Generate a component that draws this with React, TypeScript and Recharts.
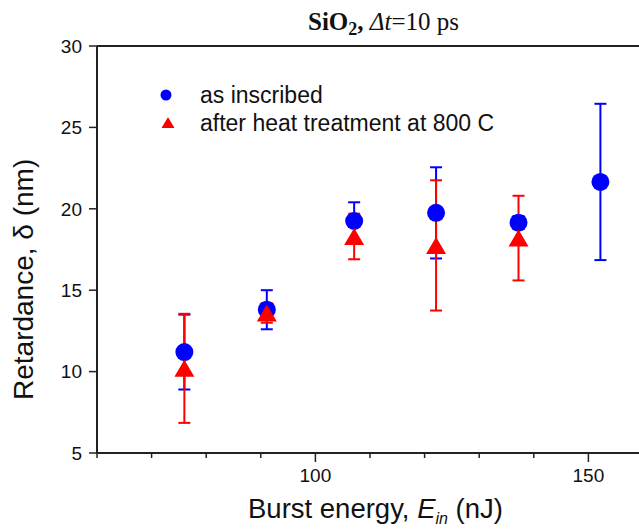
import { ScatterChart, Scatter, XAxis, YAxis, ErrorBar, ReferenceLine, Legend, Customized } from "recharts";

const energy = [76, 91.1, 107.1, 122.1, 137.2, 152.2];
const inscribed = [11.2, 13.8, 19.25, 19.75, 19.15, 21.65];
const inscribedErr = [2.3, 1.2, 1.15, 2.8, 0.4, 4.8];
const heatedEnergy = [76, 91.1, 107.1, 122.1, 137.2];
const heated = [10.2, 13.6, 18.3, 17.75, 18.2];
const heatedErr = [3.35, 0.6, 1.4, 4.0, 2.6];
const xTicks = [60, 70, 80, 90, 100, 110, 120, 130, 140, 150, 160];
const yTicks = [5, 10, 15, 20, 25, 30];

const seriesNames = ["as inscribed", "after heat treatment at 800 C"];

const blueData = energy.map((e, i) => ({ x: e, y: inscribed[i], err: inscribedErr[i] }));
const redData = heatedEnergy.map((e, i) => ({ x: e, y: heated[i], err: heatedErr[i] }));

const SANS = "'Liberation Sans', Arial, sans-serif";
const SERIF = "'Liberation Serif', 'Times New Roman', serif";

const Dot = (p: any) => <circle cx={p.cx} cy={p.cy} r={9} fill="#0000ff" />;
const Tri = (p: any) => (
  <polygon
    points={`${p.cx - 10},${p.cy + 8.5} ${p.cx + 10},${p.cy + 8.5} ${p.cx},${p.cy - 8.5}`}
    fill="#ff0000"
  />
);

const XTick = ({ x, y, payload }: any) => {
  const major = payload.value % 50 === 0;
  return (
    <g>
      <line x1={x} x2={x} y1={y} y2={y + (major ? 9 : 5)} stroke="#222" strokeWidth={1.5} />
      {major && (
        <text x={x} y={y + 29} textAnchor="middle" fontSize={19} fontFamily={SANS} fill="#111">
          {payload.value}
        </text>
      )}
    </g>
  );
};

const Titles = () => (
  <g>
    <text x={308} y={30} fontFamily={SERIF} fontSize={25} fill="#111">
      <tspan fontWeight="bold">SiO</tspan>
      <tspan fontWeight="bold" fontSize={18} dy={5}>2</tspan>
      <tspan fontWeight="bold" dy={-5}>, </tspan>
      <tspan fontStyle="italic">Δt</tspan>
      <tspan>=10 ps</tspan>
    </text>
    <text x={248} y={518} fontFamily={SANS} fontSize={27.5} fill="#111">
      <tspan>Burst energy, </tspan>
      <tspan fontStyle="italic">E</tspan>
      <tspan fontStyle="italic" fontSize={16} dy={6}>in</tspan>
      <tspan dy={-6}> (nJ)</tspan>
    </text>
    <text
      x={33}
      y={400}
      transform="rotate(-90 33 400)"
      fontFamily={SANS}
      fontSize={28}
      fill="#111"
    >
      Retardance, δ (nm)
    </text>
  </g>
);

const LegendBox = () => (
  <div style={{ fontFamily: SANS, fontSize: 23, color: "#111", lineHeight: "28px" }}>
    {seriesNames.map((name, i) => (
      <div key={name} style={{ display: "flex", alignItems: "center", height: 28, whiteSpace: "nowrap" }}>
        <svg width={24} height={28} style={{ flex: "none" }}>
          {i === 0 ? (
            <circle cx={11} cy={14} r={5.5} fill="#0000ff" />
          ) : (
            <polygon points="6.5,19 19.5,19 13,8" fill="#ff0000" />
          )}
        </svg>
        <span style={{ marginLeft: 21 }}>{name}</span>
      </div>
    ))}
  </div>
);

export default function App() {
  return (
    <div
      style={{
        position: "absolute",
        left: 0,
        top: 0,
        width: 639,
        height: 531,
        overflow: "hidden",
        background: "#fff",
      }}
    >
      <ScatterChart width={700} height={531} margin={{ top: 46, right: 57, left: 0, bottom: 0 }}>
        <XAxis
          type="number"
          dataKey="x"
          domain={[60, 160]}
          ticks={xTicks}
          allowDataOverflow
          height={78}
          tickSize={0}
          tickMargin={0}
          tickLine={false}
          tick={<XTick />}
          axisLine={{ stroke: "#222", strokeWidth: 2 }}
          interval={0}
        />
        <YAxis
          type="number"
          dataKey="y"
          domain={[5, 30]}
          ticks={yTicks}
          allowDataOverflow
          width={97}
          tickSize={8}
          tickMargin={7}
          interval={0}
          tickLine={{ stroke: "#222", strokeWidth: 1.5 }}
          axisLine={{ stroke: "#222", strokeWidth: 2 }}
          tick={{ fontSize: 19, fontFamily: SANS, fill: "#111" }}
        />
        <ReferenceLine y={30} stroke="#222" strokeWidth={2} />
        <Scatter name={seriesNames[0]} data={blueData} shape={Dot} isAnimationActive={false}>
          <ErrorBar dataKey="err" direction="y" width={6} stroke="#0000ff" strokeWidth={2} />
        </Scatter>
        <Scatter name={seriesNames[1]} data={redData} shape={Tri} isAnimationActive={false}>
          <ErrorBar dataKey="err" direction="y" width={6} stroke="#ff0000" strokeWidth={2} />
        </Scatter>
        <Legend
          layout="vertical"
          align="center"
          verticalAlign="middle"
          content={<LegendBox />}
          wrapperStyle={{ left: 155, top: 81, width: 360, height: 56 }}
        />
        <Customized component={<Titles />} />
      </ScatterChart>
    </div>
  );
}
